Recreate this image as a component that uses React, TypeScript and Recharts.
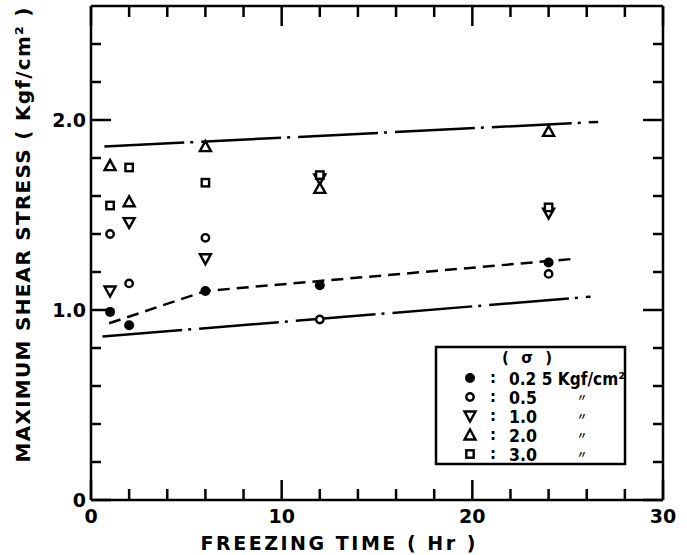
import { Scatter, ScatterChart, XAxis, YAxis } from "recharts";

document.body.style.margin = "0";

// freezing time (hr) and max shear stress (kgf/cm2) for each confining stress
const hours = [1, 2, 6, 12, 24];
const stress025 = [0.99, 0.92, 1.1, 1.13, 1.25];
const stress05 = [1.4, 1.14, 1.38, 0.95, 1.19];
const stress10 = [1.1, 1.46, 1.27, 1.69, 1.51];
const stress20 = [1.76, 1.57, 1.86, 1.64, 1.94];
const stress30 = [1.55, 1.75, 1.67, 1.71, 1.54];

// hand drawn fit lines
const upperFitX = [0.7, 26.6];
const upperFitY = [1.86, 1.99];
const lowerFitX = [0.6, 26.2];
const lowerFitY = [0.86, 1.07];
const meanFitX = [0.95, 6, 25.4];
const meanFitY = [0.93, 1.1, 1.27];

const xTicks = [0, 2, 4, 6, 8, 10, 12, 14, 16, 18, 20, 22, 24, 26, 28, 30];
const yTicks = [0, 0.2, 0.4, 0.6, 0.8, 1.0, 1.2, 1.4, 1.6, 1.8, 2.0, 2.2, 2.4];
const yLabels: Record<string, string> = { "0": "0", "1": "1.0", "2": "2.0" };

const legendLabels = ["0.2 5 Kgf/cm²", "0.5", "1.0", "2.0", "3.0"];

const pts = (xs: number[], ys: number[]) => xs.map((t, i) => ({ t, v: ys[i] }));

const FONT = "DejaVu Sans, sans-serif";
const SW = 2.5;

const isMajorX = (v: number) => v % 10 === 0;
const isMajorY = (v: number) => Math.abs(v - Math.round(v)) < 1e-6;

const BottomTick = (p: any) => {
  const v = p.payload.value;
  const major = isMajorX(v);
  return (
    <g>
      <line x1={p.x} x2={p.x} y1={p.y} y2={p.y - (major ? 20 : 11)} stroke="#000" strokeWidth={SW} />
      {major && (
        <text x={p.x} y={p.y + 23} textAnchor="middle" fontFamily={FONT} fontWeight="bold" fontSize={19} fill="#000">
          {v}
        </text>
      )}
    </g>
  );
};

const TopTick = (p: any) => {
  const major = isMajorX(p.payload.value);
  return <line x1={p.x} x2={p.x} y1={p.y} y2={p.y + (major ? 20 : 11)} stroke="#000" strokeWidth={SW} />;
};

const LeftTick = (p: any) => {
  const v = p.payload.value;
  const major = isMajorY(v);
  const label = yLabels[String(Math.round(v))];
  return (
    <g>
      <line x1={p.x} x2={p.x + (major ? 20 : 10)} y1={p.y} y2={p.y} stroke="#000" strokeWidth={SW} />
      {major && label && (
        <text x={p.x - 5} y={p.y + 7} textAnchor="end" fontFamily={FONT} fontWeight="bold" fontSize={19} fill="#000">
          {label}
        </text>
      )}
    </g>
  );
};

const RightTick = (p: any) => {
  const major = isMajorY(p.payload.value);
  return <line x1={p.x} x2={p.x - (major ? 20 : 10)} y1={p.y} y2={p.y} stroke="#000" strokeWidth={SW} />;
};

const FilledCircle = ({ cx, cy }: any) => <circle cx={cx} cy={cy} r={5} fill="#000" />;
const OpenCircle = ({ cx, cy }: any) => (
  <circle cx={cx} cy={cy} r={3.7} fill="#fff" stroke="#000" strokeWidth={2.4} />
);
const DownTri = ({ cx, cy }: any) => (
  <polygon
    points={`${cx - 5.5},${cy - 4.5} ${cx + 5.5},${cy - 4.5} ${cx},${cy + 5.5}`}
    fill="#fff"
    stroke="#000"
    strokeWidth={2.4}
  />
);
const UpTri = ({ cx, cy }: any) => (
  <polygon
    points={`${cx - 5.5},${cy + 4.5} ${cx + 5.5},${cy + 4.5} ${cx},${cy - 5.5}`}
    fill="#fff"
    stroke="#000"
    strokeWidth={2.4}
  />
);
const Square = ({ cx, cy }: any) => (
  <rect x={cx - 3.7} y={cy - 3.7} width={7.4} height={7.4} fill="#fff" stroke="#000" strokeWidth={2.4} />
);
const NoDot = () => <g />;

const markers = [FilledCircle, OpenCircle, DownTri, UpTri, Square];

function Legend() {
  const rowsY = [378, 397, 416, 435, 454];
  return (
    <svg width={687} height={555} style={{ position: "absolute", left: 0, top: 0, pointerEvents: "none" }}>
      <rect x={436} y={347} width={189} height={117} fill="#fff" stroke="#000" strokeWidth={SW} />
      <text
        x={527}
        y={363}
        textAnchor="middle"
        fontFamily={FONT}
        fontWeight="bold"
        fontSize={15}
        fill="#000"
        textLength={50}
        lengthAdjust="spacing"
      >
        ( σ )
      </text>
      {legendLabels.map((lab, i) => {
        const M = markers[i];
        const y = rowsY[i];
        return (
          <g key={lab}>
            <M cx={470} cy={y} />
            <text x={493} y={y + 5} textAnchor="middle" fontFamily={FONT} fontWeight="bold" fontSize={15} fill="#000">
              :
            </text>
            <text
              x={509}
              y={y + 6.5}
              fontFamily={FONT}
              fontWeight="bold"
              fontSize={17}
              fill="#000"
              textLength={i === 0 ? 116 : 28}
              lengthAdjust="spacingAndGlyphs"
            >
              {lab}
            </text>
            {i > 0 && (
              <text x={582} y={y + 4} textAnchor="middle" fontFamily="Noto Sans CJK JP, sans-serif" fontWeight="bold" fontSize={10} fill="#000">
                〃
              </text>
            )}
          </g>
        );
      })}
      <text
        transform="translate(30 235) rotate(-90)"
        textAnchor="middle"
        fontFamily={FONT}
        fontWeight="bold"
        fontSize={20}
        fill="#000"
        textLength={455}
        lengthAdjust="spacing"
      >
        MAXIMUM SHEAR STRESS ( Kgf/cm² )
      </text>
      <text
        x={338}
        y={550}
        textAnchor="middle"
        fontFamily={FONT}
        fontWeight="bold"
        fontSize={19}
        fill="#000"
        textLength={275}
        lengthAdjust="spacing"
      >
        FREEZING TIME ( Hr )
      </text>
    </svg>
  );
}

export default function App() {
  const series = [stress025, stress05, stress10, stress20, stress30];
  const axisLine = { stroke: "#000", strokeWidth: SW };
  return (
    <div style={{ position: "relative", width: 687, height: 555, background: "#fff" }}>
      <ScatterChart width={687} height={555} margin={{ top: 5, right: 23, bottom: 25, left: 51 }}>
        <XAxis
          xAxisId="b"
          dataKey="t"
          type="number"
          orientation="bottom"
          domain={[0, 30]}
          ticks={xTicks}
          allowDataOverflow
          height={30}
          tickSize={0}
          tickMargin={0}
          tick={BottomTick}
          tickLine={false}
          axisLine={axisLine}
          interval={0}
        />
        <XAxis
          xAxisId="t"
          dataKey="t"
          type="number"
          orientation="top"
          domain={[0, 30]}
          ticks={xTicks}
          allowDataOverflow
          height={1}
          tickSize={0}
          tickMargin={0}
          tick={TopTick}
          tickLine={false}
          axisLine={axisLine}
          interval={0}
        />
        <YAxis
          yAxisId="l"
          dataKey="v"
          type="number"
          orientation="left"
          domain={[0, 2.6]}
          ticks={yTicks}
          allowDataOverflow
          width={40}
          tickSize={0}
          tickMargin={0}
          tick={LeftTick}
          tickLine={false}
          axisLine={axisLine}
          interval={0}
        />
        <YAxis
          yAxisId="r"
          dataKey="v"
          type="number"
          orientation="right"
          domain={[0, 2.6]}
          ticks={yTicks}
          allowDataOverflow
          width={1}
          tickSize={0}
          tickMargin={0}
          tick={RightTick}
          tickLine={false}
          axisLine={axisLine}
          interval={0}
        />
        <Scatter xAxisId="t" yAxisId="r" data={[{ t: -5, v: -5 }]} shape={NoDot} isAnimationActive={false} />
        <Scatter
          xAxisId="b"
          yAxisId="l"
          data={pts(upperFitX, upperFitY)}
          line={{ stroke: "#000", strokeWidth: SW, strokeDasharray: "80 6 3 8" }}
          lineType="joint"
          shape={NoDot}
          isAnimationActive={false}
        />
        <Scatter
          xAxisId="b"
          yAxisId="l"
          data={pts(lowerFitX, lowerFitY)}
          line={{ stroke: "#000", strokeWidth: SW, strokeDasharray: "80 6 3 8" }}
          lineType="joint"
          shape={NoDot}
          isAnimationActive={false}
        />
        <Scatter
          xAxisId="b"
          yAxisId="l"
          data={pts(meanFitX, meanFitY)}
          line={{ stroke: "#000", strokeWidth: SW, strokeDasharray: "12 7" }}
          lineType="joint"
          shape={NoDot}
          isAnimationActive={false}
        />
        {series.map((s, i) => (
          <Scatter
            key={i}
            xAxisId="b"
            yAxisId="l"
            data={pts(hours, s)}
            shape={markers[i]}
            isAnimationActive={false}
          />
        ))}
      </ScatterChart>
      <Legend />
    </div>
  );
}
